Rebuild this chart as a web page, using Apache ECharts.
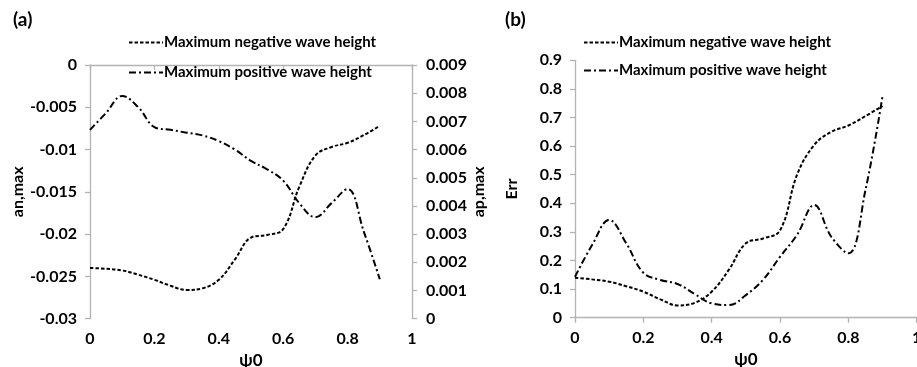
<!DOCTYPE html>
<html><head><meta charset="utf-8">
<script src="https://cdn.jsdelivr.net/npm/echarts@6/dist/echarts.min.js"></script>
<style>html,body{margin:0;padding:0;background:#fff}#c{width:917px;height:367px}</style>
</head><body><div id="c"></div>
<script>
const psi = [0,0.05,0.1,0.15,0.2,0.25,0.3,0.35,0.4,0.45,0.5,0.55,0.6,0.65,0.7,0.75,0.8,0.85,0.9];
const anNeg = [-0.0240,-0.0241,-0.0243,-0.0248,-0.0254,-0.0261,-0.0266,-0.0264,-0.0254,-0.0230,-0.0204,-0.0201,-0.0194,-0.0144,-0.0107,-0.0097,-0.0092,-0.0083,-0.0072];
const apPos = [0.0067,0.0073,0.0079,0.0075,0.0068,0.0067,0.0066,0.0065,0.0063,0.0060,0.0056,0.0053,0.0049,0.0041,0.0036,0.0041,0.0046,0.0031,0.0014];
const errNeg = [0.140,0.134,0.126,0.110,0.091,0.064,0.043,0.052,0.091,0.167,0.260,0.277,0.305,0.500,0.604,0.650,0.672,0.705,0.740];
const errPos = [0.143,0.254,0.342,0.260,0.157,0.132,0.118,0.083,0.050,0.044,0.079,0.132,0.213,0.290,0.394,0.283,0.225,0.446,0.775];
const negName = 'Maximum negative wave height';
const posName = 'Maximum positive wave height';
const pair = (xs, ys) => xs.map((x, i) => [x, ys[i]]);

const FONT = 'Lato';
const lab = {color:'#000', fontWeight:'bold', fontSize:16, fontFamily:FONT};
const axLine = {show:true, lineStyle:{color:'#b3b3b3', width:1.3}};
const tick = {show:true, inside:false, length:5, lineStyle:{color:'#b3b3b3', width:1.3}};
const negStyle = {color:'#000', width:2, type:[3.5,2]};
const posStyle = {color:'#000', width:2, type:[7,3,2,3]};

function xAx(gi, gap){
  return {type:'value', gridIndex:gi, min:0, max:1, interval:0.2,
    name:'ψ0', nameLocation:'middle', nameGap:gap, nameTextStyle:Object.assign({}, lab, {fontSize:17}),
    axisLine:axLine, axisTick:tick, splitLine:{show:false},
    axisLabel:Object.assign({margin:12}, lab)};
}
const legendText = Object.assign({}, lab, {fontSize:15, padding:[0,0,0,-4]});
const chart = echarts.init(document.getElementById('c'), null, {renderer:'canvas'});
chart.setOption({
  animation:false,
  textStyle:{fontFamily:FONT},
  title:[
    {text:'(a)', left:8, top:5, textStyle:{fontFamily:FONT, fontWeight:'bold', fontSize:19, color:'#000'}},
    {text:'(b)', left:500, top:5, textStyle:{fontFamily:FONT, fontWeight:'bold', fontSize:19, color:'#000'}}
  ],
  legend:[
    {orient:'vertical', left:123, top:30, itemWidth:34, itemHeight:14, itemGap:15,
     data:[negName, posName], textStyle:legendText, selectedMode:false, itemStyle:{opacity:0}},
    {orient:'vertical', left:578, top:30, itemWidth:34, itemHeight:14, itemGap:13,
     data:[negName, posName], textStyle:legendText, selectedMode:false, itemStyle:{opacity:0}}
  ],
  grid:[
    {left:90, right:505, top:65, bottom:48.3, containLabel:false, outerBoundsMode:'none'},
    {left:575, right:0.3, top:60.3, bottom:49.3, containLabel:false, outerBoundsMode:'none'}
  ],
  xAxis:[xAx(0, 33), xAx(1, 25)],
  yAxis:[
    {type:'value', gridIndex:0, min:-0.03, max:0, interval:0.005, name:'an,max', nameLocation:'middle', nameGap:60,
     nameTextStyle:lab, axisLine:axLine, axisTick:tick, splitLine:{show:false}, axisLabel:Object.assign({margin:13}, lab)},
    {type:'value', gridIndex:0, position:'right', min:0, max:0.009, interval:0.001, name:'ap,max', nameLocation:'middle', nameGap:50,
     nameTextStyle:lab, axisLine:axLine, axisTick:tick, splitLine:{show:false}, axisLabel:Object.assign({margin:14}, lab)},
    {type:'value', gridIndex:1, min:0, max:0.9, interval:0.1, name:'Err', nameLocation:'middle', nameGap:55,
     nameTextStyle:lab, axisLine:axLine, axisTick:tick, splitLine:{show:false}, axisLabel:Object.assign({margin:13}, lab)}
  ],
  series:[
    {name:negName, type:'line', xAxisIndex:0, yAxisIndex:0, data:pair(psi, anNeg), smooth:0.4, showSymbol:false, symbol:'none', lineStyle:negStyle},
    {name:posName, type:'line', xAxisIndex:0, yAxisIndex:1, data:pair(psi, apPos), smooth:0.4, showSymbol:false, symbol:'none', lineStyle:posStyle},
    {name:negName, type:'line', xAxisIndex:1, yAxisIndex:2, data:pair(psi, errNeg), smooth:0.4, showSymbol:false, symbol:'none', lineStyle:negStyle},
    {name:posName, type:'line', xAxisIndex:1, yAxisIndex:2, data:pair(psi, errPos), smooth:0.4, showSymbol:false, symbol:'none', lineStyle:posStyle}
  ]
});
</script></body></html>
